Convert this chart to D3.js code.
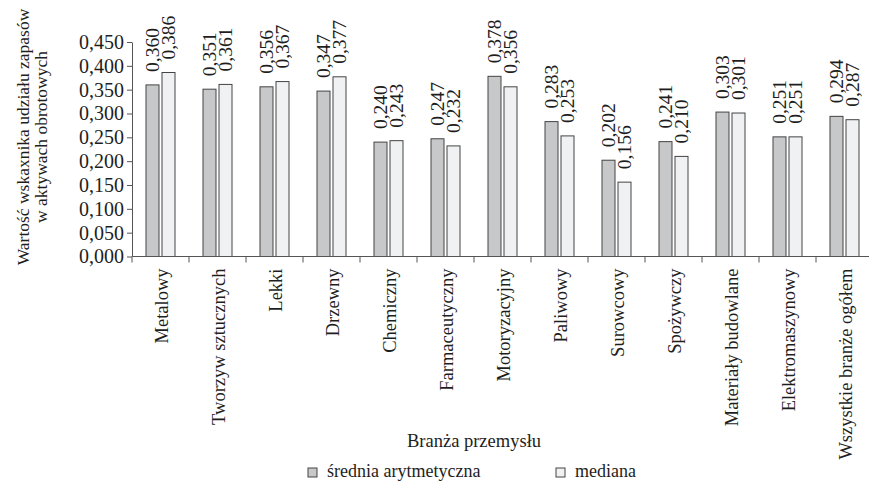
<!DOCTYPE html>
<html>
<head>
<meta charset="utf-8">
<script src="https://cdn.jsdelivr.net/npm/d3@7"></script>
<style>
  body { margin: 0; background: #fff; }
  svg text { font-family: "Liberation Serif", "Times New Roman", serif; fill: #1e1e1e; }
</style>
</head>
<body>
<svg id="chart" width="869" height="481"></svg>
<script>
const categories = ['Metalowy', 'Tworzyw sztucznych', 'Lekki', 'Drzewny', 'Chemiczny', 'Farmaceutyczny',
  'Motoryzacyjny', 'Paliwowy', 'Surowcowy', 'Spożywczy', 'Materiały budowlane', 'Elektromaszynowy',
  'Wszystkie branże ogółem'];
const meanValues = [0.360, 0.351, 0.356, 0.347, 0.240, 0.247, 0.378, 0.283, 0.202, 0.241, 0.303, 0.251, 0.294];
const medianValues = [0.386, 0.361, 0.367, 0.377, 0.243, 0.232, 0.356, 0.253, 0.156, 0.210, 0.301, 0.251, 0.287];
const yTicks = [0, 0.05, 0.1, 0.15, 0.2, 0.25, 0.3, 0.35, 0.4, 0.45];
const seriesNames = ['średnia arytmetyczna', 'mediana'];

const svg = d3.select('#chart');
const fmt = v => d3.format('.3f')(v).replace('.', ',');

const plotLeft = 132, plotRight = 873, plotTop = 42, plotBottom = 256.5;

const x = d3.scaleBand().domain(categories).range([plotLeft, plotRight]);
const y = d3.scaleLinear().domain([0, 0.45]).range([plotBottom, plotTop]);

const fills = ['#c7c8c9', '#f0f1f2'];
const barW = 13, gap = 3;

// y axis
const yAxis = svg.append('g')
  .attr('transform', `translate(${plotLeft},0)`)
  .call(d3.axisLeft(y).tickValues(yTicks).tickFormat(fmt).tickSize(5).tickSizeOuter(0));
yAxis.select('.domain').attr('stroke', '#555');
yAxis.selectAll('.tick line').attr('stroke', '#555');
yAxis.selectAll('.tick text')
  .attr('x', -8)
  .style('font-size', '20px')
  .style('font-family', '"Liberation Serif", serif')
  .attr('fill', '#1e1e1e');

// bars
const series = [meanValues, medianValues];
series.forEach((vals, s) => {
  const offset = s === 0 ? -gap / 2 - barW : gap / 2;
  svg.append('g').selectAll('rect')
    .data(categories)
    .enter()
    .append('rect')
    .attr('x', d => x(d) + x.bandwidth() / 2 + offset)
    .attr('y', (d, i) => y(vals[i]))
    .attr('width', barW)
    .attr('height', (d, i) => plotBottom - y(vals[i]))
    .attr('fill', fills[s])
    .attr('stroke', '#444')
    .attr('stroke-width', 1);

  svg.append('g').selectAll('text')
    .data(categories)
    .enter()
    .append('text')
    .attr('transform', (d, i) =>
      `translate(${x(d) + x.bandwidth() / 2 + offset + barW / 2},${y(vals[i]) - 13}) rotate(-90)`)
    .attr('dy', '0.35em')
    .style('font-size', '19.5px')
    .text((d, i) => fmt(vals[i]));
});

// x axis
const xAxis = svg.append('g')
  .attr('transform', `translate(0,${plotBottom})`);
xAxis.append('line')
  .attr('x1', plotLeft).attr('x2', plotRight)
  .attr('stroke', '#555');
xAxis.selectAll('.tk')
  .data(categories)
  .enter()
  .append('line')
  .attr('x1', d => x(d)).attr('x2', d => x(d))
  .attr('y1', 0).attr('y2', 6)
  .attr('stroke', '#555');
xAxis.selectAll('text')
  .data(categories)
  .enter()
  .append('text')
  .attr('transform', d => `translate(${x(d) + x.bandwidth() / 2 + 1},12) rotate(-90)`)
  .attr('dy', '0.35em')
  .attr('text-anchor', 'end')
  .style('font-size', '18.5px')
  .text(d => d);

// axis titles
const yTitle = svg.append('text')
  .attr('transform', 'translate(29,137) rotate(-90)')
  .attr('text-anchor', 'middle')
  .style('font-size', '17.5px');
yTitle.append('tspan').attr('x', 0).attr('y', 0).text('Wartość wskaxnika udziału zapasów');
yTitle.append('tspan').attr('x', 0).attr('y', 18).text('w aktywach obrotowych');

svg.append('text')
  .attr('x', 474).attr('y', 447)
  .attr('text-anchor', 'middle')
  .style('font-size', '18.5px')
  .text('Branża przemysłu');

// legend
const legendX = [308, 556];
seriesNames.forEach((name, s) => {
  svg.append('rect')
    .attr('x', legendX[s]).attr('y', 468)
    .attr('width', 9).attr('height', 9)
    .attr('fill', fills[s])
    .attr('stroke', '#444');
  svg.append('text')
    .attr('x', legendX[s] + 19).attr('y', 477)
    .style('font-size', '18px')
    .text(name);
});
</script>
</body>
</html>
